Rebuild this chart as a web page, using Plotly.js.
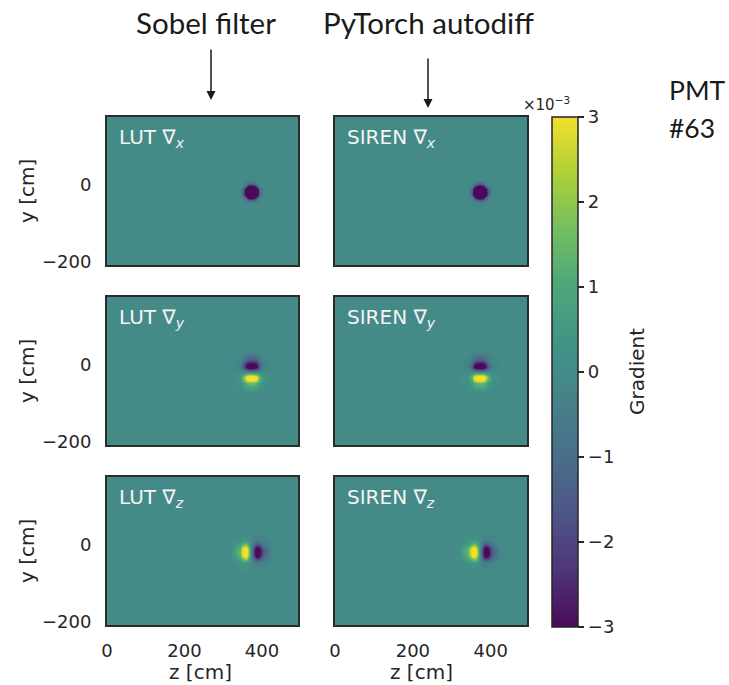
<!DOCTYPE html>
<html>
<head>
<meta charset="utf-8">
<script src="https://cdn.plot.ly/plotly-3.0.1.min.js"></script>
<style>html,body{margin:0;padding:0;background:#fff;}#chart{width:729px;height:685px;}</style>
</head>
<body>
<div id="chart"></div>
<script>
// ---- data (gradient values in units of 1e-3) ----
// grid coordinates (cm): z along x-axis, y along y-axis
const zGrid = [0, 317, 342, 351, 358, 365, 372, 379, 386, 393, 402, 427, 494];
const yGrid = [-208, -73, -48, -39, -32, -25, -18, -11, -4, 3, 12, 37, 177];

// 9x9 patches around the PMT spot (rows: y ascending, cols: z ascending)
const lutGx = [
  [0, 0, -0.05, -0.1, -0.1, -0.1, -0.05, 0, 0],
  [0, -0.15, -0.5, -1.2, -1.5, -1.2, -0.5, -0.15, 0],
  [-0.05, -0.5, -2, -4, -4.5, -4, -2, -0.5, -0.05],
  [-0.1, -1.2, -4, -5, -5, -5, -4, -1.2, -0.1],
  [-0.1, -1.5, -4.5, -5, -5, -5, -4.5, -1.5, -0.1],
  [-0.1, -1.2, -4, -5, -5, -5, -4, -1.2, -0.1],
  [-0.05, -0.5, -2, -4, -4.5, -4, -2, -0.5, -0.05],
  [0, -0.15, -0.5, -1.2, -1.5, -1.2, -0.5, -0.15, 0],
  [0, 0, -0.05, -0.1, -0.1, -0.1, -0.05, 0, 0]
];
const sirenGx = [
  [0, 0, -0.05, -0.1, -0.1, -0.1, -0.05, 0, 0],
  [0, -0.15, -0.55, -1.3, -1.6, -1.3, -0.55, -0.15, 0],
  [-0.05, -0.55, -2.1, -4, -4.6, -4, -2.1, -0.55, -0.05],
  [-0.1, -1.3, -4, -5, -5, -5, -4, -1.3, -0.1],
  [-0.1, -1.6, -4.6, -5, -5, -5, -4.6, -1.6, -0.1],
  [-0.1, -1.3, -4, -5, -5, -5, -4, -1.3, -0.1],
  [-0.05, -0.55, -2.1, -4, -4.6, -4, -2.1, -0.55, -0.05],
  [0, -0.15, -0.55, -1.3, -1.6, -1.3, -0.55, -0.15, 0],
  [0, 0, -0.05, -0.1, -0.1, -0.1, -0.05, 0, 0]
];
const lutGy = [
  [0.15, 0.65, 1.2, 1.5, 1.6, 1.5, 1.2, 0.65, 0.15],
  [0.35, 1.35, 2.55, 3.25, 3.4, 3.25, 2.55, 1.35, 0.35],
  [0.4, 1.6, 3.0, 3.8, 4.0, 3.8, 3.0, 1.6, 0.4],
  [0.25, 0.95, 1.8, 2.3, 2.4, 2.3, 1.8, 0.95, 0.25],
  [0, 0, 0, 0, 0, 0, 0, 0, 0],
  [-0.25, -0.95, -1.8, -2.3, -2.4, -2.3, -1.8, -0.95, -0.25],
  [-0.4, -1.6, -3.0, -3.8, -4.0, -3.8, -3.0, -1.6, -0.4],
  [-0.35, -1.35, -2.55, -3.25, -3.4, -3.25, -2.55, -1.35, -0.35],
  [-0.15, -0.65, -1.2, -1.5, -1.6, -1.5, -1.2, -0.65, -0.15]
];
const sirenGy = [
  [0.15, 0.6, 1.15, 1.45, 1.55, 1.45, 1.15, 0.6, 0.15],
  [0.35, 1.3, 2.5, 3.2, 3.35, 3.2, 2.5, 1.3, 0.35],
  [0.4, 1.6, 3.0, 3.8, 4.0, 3.8, 3.0, 1.6, 0.4],
  [0.25, 1.0, 1.85, 2.35, 2.45, 2.35, 1.85, 1.0, 0.25],
  [0, 0, 0, 0, 0, 0, 0, 0, 0],
  [-0.25, -1.0, -1.85, -2.35, -2.45, -2.35, -1.85, -1.0, -0.25],
  [-0.4, -1.6, -3.0, -3.8, -4.0, -3.8, -3.0, -1.6, -0.4],
  [-0.35, -1.3, -2.5, -3.2, -3.35, -3.2, -2.5, -1.3, -0.35],
  [-0.15, -0.6, -1.15, -1.45, -1.55, -1.45, -1.15, -0.6, -0.15]
];
const lutGz = [
  [0.15, 0.35, 0.4, 0.25, 0, -0.25, -0.4, -0.35, -0.15],
  [0.65, 1.35, 1.6, 0.95, 0, -0.95, -1.6, -1.35, -0.65],
  [1.2, 2.55, 3.0, 1.8, 0, -1.8, -3.0, -2.55, -1.2],
  [1.5, 3.25, 3.8, 2.3, 0, -2.3, -3.8, -3.25, -1.5],
  [1.6, 3.4, 4.0, 2.4, 0, -2.4, -4.0, -3.4, -1.6],
  [1.5, 3.25, 3.8, 2.3, 0, -2.3, -3.8, -3.25, -1.5],
  [1.2, 2.55, 3.0, 1.8, 0, -1.8, -3.0, -2.55, -1.2],
  [0.65, 1.35, 1.6, 0.95, 0, -0.95, -1.6, -1.35, -0.65],
  [0.15, 0.35, 0.4, 0.25, 0, -0.25, -0.4, -0.35, -0.15]
];
const sirenGz = [
  [0.15, 0.35, 0.4, 0.25, 0, -0.25, -0.4, -0.35, -0.15],
  [0.6, 1.3, 1.6, 1.0, 0, -1.0, -1.6, -1.3, -0.6],
  [1.15, 2.5, 3.0, 1.85, 0, -1.85, -3.0, -2.5, -1.15],
  [1.45, 3.2, 3.8, 2.35, 0, -2.35, -3.8, -3.2, -1.45],
  [1.55, 3.35, 4.0, 2.45, 0, -2.45, -4.0, -3.35, -1.55],
  [1.45, 3.2, 3.8, 2.35, 0, -2.35, -3.8, -3.2, -1.45],
  [1.15, 2.5, 3.0, 1.85, 0, -1.85, -3.0, -2.5, -1.15],
  [0.6, 1.3, 1.6, 1.0, 0, -1.0, -1.6, -1.3, -0.6],
  [0.15, 0.35, 0.4, 0.25, 0, -0.25, -0.4, -0.35, -0.15]
];

const panelLabels = [
  'LUT ∇<sub><i>x</i></sub>', 'SIREN ∇<sub><i>x</i></sub>',
  'LUT ∇<sub><i>y</i></sub>', 'SIREN ∇<sub><i>y</i></sub>',
  'LUT ∇<sub><i>z</i></sub>', 'SIREN ∇<sub><i>z</i></sub>'
];
const xTickVals = [0, 200, 400];
const xTickText = ['0', '200', '400'];
const yTickVals = [-200, 0];
const yTickText = ['−200', '0'];
const cbTickVals = [-3, -2, -1, 0, 1, 2, 3];
const cbTickText = ['−3', '−2', '−1', '0', '1', '2', '3'];

// muted viridis (as it appears in the reference picture)
const mutedViridis = [
  [0, 'rgb(73,11,88)'], [0.111, 'rgb(80,53,121)'], [0.222, 'rgb(77,85,135)'],
  [0.333, 'rgb(73,111,138)'], [0.444, 'rgb(70,129,137)'], [0.5, 'rgb(68,139,136)'],
  [0.555, 'rgb(65,148,134)'], [0.666, 'rgb(76,166,123)'], [0.777, 'rgb(114,189,97)'],
  [0.888, 'rgb(173,208,56)'], [1, 'rgb(243,223,44)']
];

// ---- build full matrices (background = 0) ----
function embed(patch) {
  const z = yGrid.map(() => zGrid.map(() => 0));
  for (let i = 0; i < patch.length; i++)
    for (let j = 0; j < patch[i].length; j++)
      z[i + 2][j + 2] = patch[i][j];
  return z;
}
const panels = [lutGx, sirenGx, lutGy, sirenGy, lutGz, sirenGz];

// ---- layout geometry (pixels) ----
const W = 729, H = 685;
const px = v => v / W, py = v => 1 - v / H;
const cols = [[107, 298], [335, 527]];
const rows = [[117, 265], [297, 445], [477, 625]];
const xTitleX = [200, 422];
const TXT = '#262626';
const FONT = 'DejaVu Sans';

const data = panels.map((p, k) => ({
  type: 'heatmap',
  x: zGrid, y: yGrid, z: embed(p),
  coloraxis: 'coloraxis',
  zsmooth: 'best',
  xaxis: 'x' + (k === 0 ? '' : k + 1),
  yaxis: 'y' + (k === 0 ? '' : k + 1),
  hoverinfo: 'skip'
}));

const layout = {
  width: W, height: H,
  margin: {l: 0, r: 0, t: 0, b: 0},
  paper_bgcolor: '#fff', plot_bgcolor: '#fff',
  showlegend: false,
  font: {family: FONT, color: TXT, size: 18},
  coloraxis: {
    colorscale: mutedViridis, cmin: -3, cmax: 3,
    colorbar: {
      x: px(552), xanchor: 'left', xpad: 0,
      y: py(372), yanchor: 'middle', ypad: 0,
      len: 510, lenmode: 'pixels', thickness: 26,
      outlinewidth: 1.5, outlinecolor: TXT,
      ticks: 'outside', ticklen: 6, tickwidth: 1.5, tickcolor: TXT,
      tickvals: cbTickVals, ticktext: cbTickText,
      tickfont: {family: FONT, size: 18, color: TXT}
    }
  },
  annotations: [],
};

for (let r = 0; r < 3; r++) {
  for (let c = 0; c < 2; c++) {
    const k = r * 2 + c;
    const sx = k === 0 ? '' : String(k + 1);
    layout['xaxis' + sx] = {
      domain: [px(cols[c][0]), px(cols[c][1])],
      anchor: 'y' + sx,
      range: [0, 493], fixedrange: true,
      showgrid: false, zeroline: false,
      showline: true, mirror: true, linecolor: '#2b2b2b', linewidth: 2,
      ticks: '', tickvals: xTickVals, ticktext: xTickText,
      showticklabels: r === 2, ticklabelstandoff: 8,
      tickfont: {family: FONT, size: 18, color: TXT}
    };
    layout['yaxis' + sx] = {
      domain: [py(rows[r][1]), py(rows[r][0])],
      anchor: 'x' + sx,
      range: [-208, 177], fixedrange: true,
      showgrid: false, zeroline: false,
      showline: true, mirror: true, linecolor: '#2b2b2b', linewidth: 2,
      ticks: '', tickvals: yTickVals, ticktext: yTickText,
      showticklabels: c === 0, ticklabelstandoff: 10,
      tickfont: {family: FONT, size: 18, color: TXT}
    };
    layout.annotations.push({
      xref: 'paper', yref: 'paper',
      x: px(cols[c][0] + 10), y: py(rows[r][0] + 21),
      xanchor: 'left', yanchor: 'middle', showarrow: false,
      text: panelLabels[k],
      font: {family: FONT, size: 20, color: '#f4f4f4'}
    });
  }
  // y-axis titles
  layout.annotations.push({
    xref: 'paper', yref: 'paper',
    x: px(27), y: py((rows[r][0] + rows[r][1]) / 2),
    xanchor: 'center', yanchor: 'middle', showarrow: false,
    textangle: -90, text: 'y [cm]',
    font: {family: FONT, size: 20, color: TXT}
  });
}
// x-axis titles
for (let c = 0; c < 2; c++) {
  layout.annotations.push({
    xref: 'paper', yref: 'paper',
    x: px(xTitleX[c]), y: py(672),
    xanchor: 'center', yanchor: 'middle', showarrow: false,
    text: 'z [cm]', font: {family: FONT, size: 20, color: TXT}
  });
}
// colorbar title and multiplier
layout.annotations.push({
  xref: 'paper', yref: 'paper', x: px(637), y: py(372),
  xanchor: 'center', yanchor: 'middle', showarrow: false,
  textangle: -90, text: 'Gradient', font: {family: FONT, size: 20, color: TXT}
});
layout.annotations.push({
  xref: 'paper', yref: 'paper', x: px(546), y: py(104),
  xanchor: 'center', yanchor: 'middle', showarrow: false,
  text: '×10<sup>−3</sup>', font: {family: FONT, size: 15, color: TXT}
});
// header labels
const HFONT = {family: 'Lato', size: 29.5, color: '#1a1a1a'};
const PFONT = {family: 'Lato', size: 26.5, color: '#1a1a1a'};
layout.annotations.push({
  xref: 'paper', yref: 'paper', x: px(206), y: py(22),
  xanchor: 'center', yanchor: 'middle', showarrow: false,
  text: 'Sobel filter', font: HFONT
});
layout.annotations.push({
  xref: 'paper', yref: 'paper', x: px(428), y: py(22),
  xanchor: 'center', yanchor: 'middle', showarrow: false,
  text: 'PyTorch autodiff', font: HFONT
});
layout.annotations.push({
  xref: 'paper', yref: 'paper', x: px(667), y: py(90),
  xanchor: 'left', yanchor: 'middle', showarrow: false,
  text: 'PMT', font: PFONT
});
layout.annotations.push({
  xref: 'paper', yref: 'paper', x: px(667), y: py(128),
  xanchor: 'left', yanchor: 'middle', showarrow: false,
  text: '#63', font: PFONT
});
// arrows
[[211, 48, 100], [428, 57, 108]].forEach(a => {
  layout.annotations.push({
    xref: 'paper', yref: 'paper', x: px(a[0]), y: py(a[2]),
    axref: 'pixel', ayref: 'pixel', ax: 0, ay: -(a[2] - a[1]),
    text: '', showarrow: true, arrowhead: 2, arrowsize: 1.2,
    arrowwidth: 1.5, arrowcolor: '#1a1a1a', standoff: 0
  });
});

Plotly.newPlot('chart', data, layout, {displayModeBar: false, staticPlot: true});
</script>
</body>
</html>
